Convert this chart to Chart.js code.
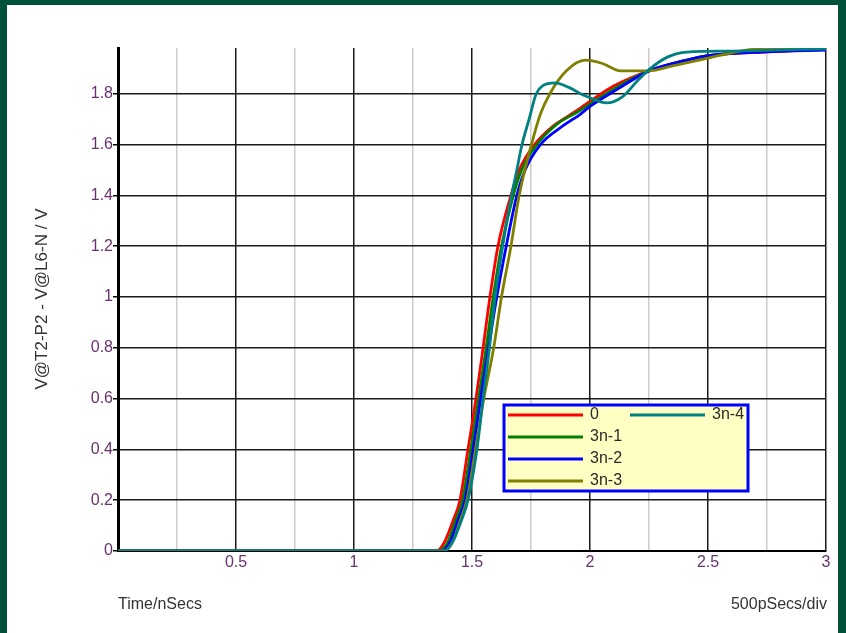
<!DOCTYPE html>
<html>
<head>
<meta charset="utf-8">
<script src="https://cdn.jsdelivr.net/npm/chart.js@4.4.1/dist/chart.umd.min.js"></script>
<style>
  html, body { margin: 0; padding: 0; background: #fff; overflow: hidden; }
</style>
</head>
<body>
<canvas id="graph" width="846" height="633"></canvas>
<script>
// series names and colours
const seriesNames = ['0', '3n-1', '3n-2', '3n-3', '3n-4'];
const seriesColors = ['#ff0000', '#008000', '#0000ff', '#808000', '#008080'];

// time (ns) and voltage, one pair per trace
const t0 = [0, 1.35, 1.386, 1.42, 1.449, 1.483, 1.517, 1.547, 1.576, 1.61, 1.665, 1.70, 1.765, 1.84, 1.93, 2.0, 2.1, 2.25, 2.4, 2.5, 2.75, 3.0];
const v0 = [0, 0, 0.04, 0.12, 0.2, 0.4, 0.6, 0.8, 1.0, 1.2, 1.4, 1.5, 1.6, 1.67, 1.725, 1.77, 1.83, 1.89, 1.93, 1.95, 1.965, 1.975];

const t1 = [0, 1.36, 1.40, 1.43, 1.46, 1.495, 1.528, 1.56, 1.59, 1.625, 1.675, 1.71, 1.775, 1.86, 1.95, 2.0, 2.12, 2.25, 2.4, 2.5, 2.75, 3.0];
const v1 = [0, 0, 0.04, 0.12, 0.2, 0.4, 0.6, 0.8, 1.0, 1.2, 1.4, 1.5, 1.6, 1.68, 1.73, 1.76, 1.83, 1.89, 1.93, 1.95, 1.967, 1.975];

const t2 = [0, 1.37, 1.41, 1.44, 1.47, 1.505, 1.537, 1.57, 1.605, 1.645, 1.69, 1.725, 1.79, 1.88, 1.96, 2.0, 2.12, 2.25, 2.4, 2.5, 2.75, 3.0];
const v2 = [0, 0, 0.04, 0.12, 0.2, 0.4, 0.6, 0.8, 1.0, 1.2, 1.4, 1.5, 1.6, 1.67, 1.72, 1.75, 1.82, 1.89, 1.93, 1.95, 1.965, 1.972];

const t3 = [0, 1.38, 1.42, 1.45, 1.478, 1.515, 1.55, 1.592, 1.625, 1.665, 1.70, 1.752, 1.79, 1.83, 1.9, 1.98, 2.05, 2.13, 2.25, 2.35, 2.5, 2.65, 2.75, 3.0];
const v3 = [0, 0, 0.04, 0.12, 0.2, 0.4, 0.6, 0.8, 1.0, 1.2, 1.4, 1.6, 1.72, 1.8, 1.89, 1.932, 1.92, 1.89, 1.89, 1.91, 1.94, 1.97, 1.978, 1.978];

const t4 = [0, 1.385, 1.42, 1.455, 1.483, 1.521, 1.547, 1.574, 1.598, 1.63, 1.668, 1.69, 1.712, 1.742, 1.772, 1.80, 1.852, 1.91, 1.96, 2.0, 2.07, 2.14, 2.2, 2.25, 2.33, 2.41, 2.6, 3.0];
const v4 = [0, 0, 0.04, 0.12, 0.2, 0.4, 0.6, 0.8, 1.0, 1.2, 1.4, 1.5, 1.6, 1.7, 1.8, 1.832, 1.843, 1.825, 1.80, 1.784, 1.764, 1.79, 1.85, 1.895, 1.945, 1.964, 1.968, 1.977];

// axis ticks
const xTicks = [0, 0.25, 0.5, 0.75, 1, 1.25, 1.5, 1.75, 2, 2.25, 2.5, 2.75, 3];
const yTicks = [0, 0.2, 0.4, 0.6, 0.8, 1, 1.2, 1.4, 1.6, 1.8];

const times = [t0, t1, t2, t3, t4];
const volts = [v0, v1, v2, v3, v4];

const FONT = 'Arial, "Liberation Sans", sans-serif';
Chart.defaults.font.family = FONT;
Chart.defaults.font.size = 16;

// green frame round the white panel
const framePlugin = {
    id: 'frame',
    beforeDraw(chart) {
        const c = chart.ctx;
        c.save();
        c.fillStyle = '#00513a';
        c.fillRect(0, 0, chart.width, chart.height);
        c.fillStyle = '#ffffff';
        c.fillRect(7, 5, chart.width - 15, chart.height - 5);
        c.restore();
    }
};

// legend box inside the plot + axis captions
const boxPlugin = {
    id: 'box',
    afterDraw(chart) {
        const c = chart.ctx;
        c.save();
        // legend
        const bx = 504, by = 405, bw = 244, bh = 86;
        c.fillStyle = '#ffffc4';
        c.fillRect(bx, by, bw, bh);
        c.strokeStyle = '#0000ff';
        c.lineWidth = 3;
        c.strokeRect(bx, by, bw, bh);
        c.font = '16px ' + FONT;
        c.textBaseline = 'middle';
        c.textAlign = 'left';
        chart.data.datasets.forEach((ds, i) => {
            const col = i < 4 ? 0 : 1;
            const row = i < 4 ? i : 0;
            const x0 = col === 0 ? 508 : 630;
            const y = 415 + row * 22;
            c.strokeStyle = ds.borderColor;
            c.lineWidth = 3;
            c.beginPath();
            c.moveTo(x0, y);
            c.lineTo(x0 + 75, y);
            c.stroke();
            c.fillStyle = '#2a2a2a';
            c.fillText(ds.label, x0 + 82, y);
        });
        // captions
        c.fillStyle = '#333333';
        c.textAlign = 'left';
        c.fillText('Time/nSecs', 118, 605);
        c.textAlign = 'right';
        c.fillText('500pSecs/div', 827, 605);
        c.translate(42, 299);
        c.rotate(-Math.PI / 2);
        c.textAlign = 'center';
        c.font = '17px ' + FONT;
        c.fillText('V@T2-P2 - V@L6-N / V', 0, 0);
        c.restore();
    }
};

const datasets = seriesNames.map((name, i) => ({
    label: name,
    data: times[i].map((t, k) => ({ x: t, y: volts[i][k] })),
    borderColor: seriesColors[i],
    backgroundColor: seriesColors[i],
    borderWidth: 2.8,
    pointRadius: 0,
    cubicInterpolationMode: 'monotone',
    order: seriesNames.length - i
}));

new Chart(document.getElementById('graph').getContext('2d'), {
    type: 'line',
    data: { datasets: datasets },
    options: {
        responsive: false,
        animation: false,
        devicePixelRatio: 1,
        layout: { padding: { left: 0, right: 20, top: 48, bottom: 0 } },
        plugins: { legend: { display: false }, tooltip: { enabled: false } },
        scales: {
            x: {
                type: 'linear',
                min: 0,
                max: 3,
                afterBuildTicks: s => { s.ticks = xTicks.map(v => ({ value: v })); },
                afterFit: s => { s.height = 82; },
                grid: {
                    drawTicks: false,
                    lineWidth: 1.5,
                    color: ctx => (ctx.tick && Math.abs(ctx.tick.value * 2 - Math.round(ctx.tick.value * 2)) < 1e-6) ? '#1a1a1a' : '#cccccc'
                },
                border: { color: '#000', width: 2 },
                ticks: {
                    color: '#6a3070',
                    padding: 2,
                    maxRotation: 0,
                    autoSkip: false,
                    callback: v => (v > 0 && Math.abs(v * 2 - Math.round(v * 2)) < 1e-6) ? String(v) : ''
                }
            },
            y: {
                min: 0,
                max: 1.98,
                afterBuildTicks: s => { s.ticks = yTicks.map(v => ({ value: v })); },
                afterFit: s => { s.width = 118; },
                grid: {
                    lineWidth: 1.5,
                    color: '#1a1a1a',
                    tickLength: 5,
                    tickColor: '#000',
                    tickWidth: 1.5
                },
                border: { color: '#000', width: 3 },
                ticks: {
                    color: '#6a3070',
                    padding: 0,
                    autoSkip: false,
                    callback: v => String(Math.round(v * 10) / 10)
                }
            }
        }
    },
    plugins: [framePlugin, boxPlugin]
});
</script>
</body>
</html>
